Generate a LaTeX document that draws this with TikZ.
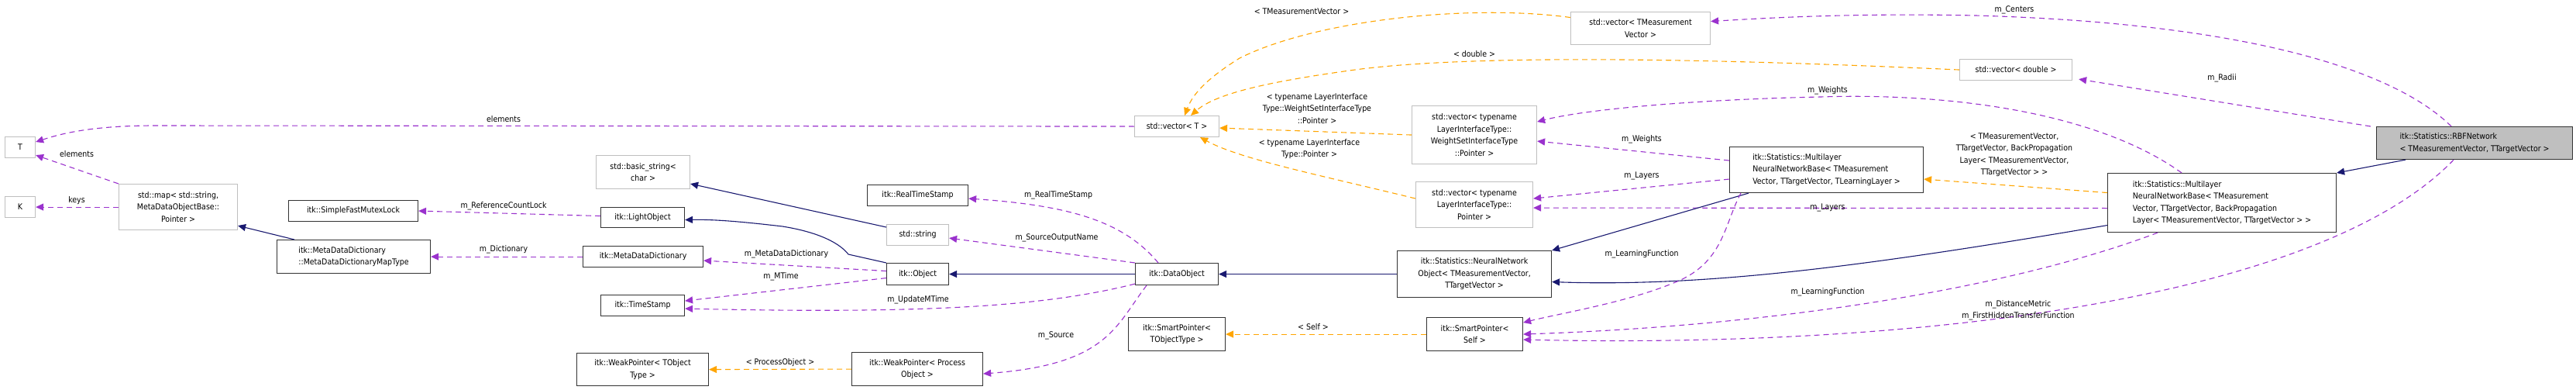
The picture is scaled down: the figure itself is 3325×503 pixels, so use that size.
\documentclass[tikz,border=0pt]{standalone}
\usepackage{fontspec}
\setmainfont{DejaVu Sans Condensed}
\usetikzlibrary{arrows.meta}
\definecolor{pu}{HTML}{9A32CD}
\definecolor{orr}{HTML}{FFA500}
\definecolor{nv}{HTML}{191970}
\definecolor{gb}{HTML}{BFBFBF}
\begin{document}
\begin{tikzpicture}[x=1pt,y=-1pt,
  font=\fontsize{10.5}{15.5}\selectfont,
  bx/.style={draw=black!80,line width=1.1pt,anchor=north west,inner sep=0pt,align=center},
  gx/.style={draw=gb,line width=1.1pt,anchor=north west,inner sep=0pt,align=center},
  tip/.style={-{Triangle[length=10pt,width=9pt]}},
  P/.style={tip,draw=pu,line width=1.1pt,dash pattern=on 7pt off 5pt,{-{Triangle[length=10pt,width=9pt,fill=pu]}}},
  O/.style={tip,draw=orr,line width=1.1pt,dash pattern=on 7pt off 5pt,{-{Triangle[length=10pt,width=9pt,fill=orr]}}},
  N/.style={tip,draw=nv,line width=1.1pt,{-{Triangle[length=10pt,width=9pt,fill=nv]}}},
  lb/.style={inner sep=0pt,align=center}]
\useasboundingbox (0,0) rectangle (3325,503);
% nodes
\node[gx,minimum width=39,minimum height=27] (T) at (6,176) {T};
\node[gx,minimum width=39,minimum height=27] (K) at (6,253) {K};
\node[gx,minimum width=153,minimum height=59] (map) at (153,237) {std::map< std::string,\\ MetaDataObjectBase::\\ Pointer >};
\node[bx,minimum width=167,minimum height=27] (sfml) at (372,258) {itk::SimpleFastMutexLock};
\node[bx,minimum width=198,minimum height=43,align=left] (mddm) at (357,309) {itk::MetaDataDictionary\\::MetaDataDictionaryMapType};
\node[gx,minimum width=121,minimum height=43] (basic) at (769,200) {std::basic\_string<\\ char >};
\node[bx,minimum width=108,minimum height=26] (light) at (775,267) {itk::LightObject};
\node[bx,minimum width=155,minimum height=27] (mdd) at (752,317) {itk::MetaDataDictionary};
\node[bx,minimum width=108,minimum height=27] (ts) at (775,380) {itk::TimeStamp};
\node[bx,minimum width=170,minimum height=42] (wpt) at (744,455) {itk::WeakPointer< TObject\\ Type >};
\node[bx,minimum width=130,minimum height=27] (rts) at (1119,238) {itk::RealTimeStamp};
\node[gx,minimum width=80,minimum height=27] (str) at (1144,289) {std::string};
\node[bx,minimum width=80,minimum height=28] (obj) at (1144,339) {itk::Object};
\node[bx,minimum width=107,minimum height=28] (dobj) at (1465,339) {itk::DataObject};
\node[bx,minimum width=125,minimum height=43] (spt) at (1456,409) {itk::SmartPointer<\\ TObjectType >};
\node[bx,minimum width=169,minimum height=43] (wpp) at (1099,454) {itk::WeakPointer< Process\\ Object >};
\node[gx,minimum width=109,minimum height=27] (vecT) at (1464,149) {std::vector< T >};
\node[gx,minimum width=180,minimum height=42] (vecM) at (2027,15) {std::vector< TMeasurement\\ Vector >};
\node[gx,minimum width=145,minimum height=27] (vecD) at (2529,76) {std::vector< double >};
\node[gx,minimum width=161,minimum height=75] (vecW) at (1822,136) {std::vector< typename\\ LayerInterfaceType::\\ WeightSetInterfaceType\\ ::Pointer >};
\node[gx,minimum width=151,minimum height=59] (vecL) at (1827,234) {std::vector< typename\\ LayerInterfaceType::\\ Pointer >};
\node[bx,minimum width=250,minimum height=59,align=left] (mlb) at (2232,189) {itk::Statistics::Multilayer\\NeuralNetworkBase< TMeasurement\\Vector, TTargetVector, TLearningLayer >};
\node[bx,minimum width=199,minimum height=60] (nno) at (1803,323) {itk::Statistics::NeuralNetwork\\Object< TMeasurementVector,\\ TTargetVector >};
\node[bx,minimum width=124,minimum height=43] (sps) at (1841,409) {itk::SmartPointer<\\ Self >};
\node[bx,minimum width=295,minimum height=76,align=left] (mlbp) at (2720,223) {itk::Statistics::Multilayer\\NeuralNetworkBase< TMeasurement\\Vector, TTargetVector, BackPropagation\\Layer< TMeasurementVector, TTargetVector > >};
\node[bx,fill=gb,minimum width=253,minimum height=42,align=left] (rbf) at (3067,163) {itk::Statistics::RBFNetwork\\< TMeasurementVector, TTargetVector >};
% edges
\draw[P] (vecT.west) -- (200,162) .. controls (120,162) and (80,172) .. ([yshift=7pt]T.east);
\node[lb] (l1) at (650,154) {elements};
\draw[P] (map.north west) -- ([yshift=4pt]T.south east);
\node[lb] (l2) at (99,199) {elements};
\draw[P] (map.west) -- (K.east);
\node[lb] (l3) at (99,259) {keys};
\draw[N] ([xshift=23pt]mddm.north west) -- ([yshift=6pt]map.south east);
\draw[P] ([yshift=2pt]light.west) -- (sfml.east);
\node[lb] (l4) at (650,266) {m\_ReferenceCountLock};
\draw[P] (mdd.west) -- (mddm.east);
\node[lb] (l5) at (650,322) {m\_Dictionary};
\draw[N] ([yshift=-4pt]str.north west) -- ([yshift=-15pt]basic.east);
\draw[N] (obj.north west) -- (1095,328) .. controls (1085,315) and (1060,300) .. (1010,292) .. controls (950,285) and (920,283) .. ([yshift=-3pt]light.east);
\draw[P] ([yshift=4pt]obj.west) -- ([yshift=-5pt]mdd.east);
\node[lb] (l6) at (1015,328) {m\_MetaDataDictionary};
\draw[P] ([yshift=-5pt]obj.west) -- ([yshift=6pt]ts.east);
\node[lb] (l7) at (1008,357) {m\_MTime};
\draw[P] ([yshift=2pt]dobj.south west) .. controls (1350,395) and (1200,405) .. ([yshift=-4pt]ts.east);
\node[lb] (l8) at (1185,387) {m\_UpdateMTime};
\draw[N] (dobj.west) -- (obj.east);
\draw[P] ([xshift=30pt]dobj.north west) .. controls (1450,285) and (1380,265) .. ([yshift=-4pt]rts.east);
\node[lb] (l9) at (1366,252) {m\_RealTimeStamp};
\draw[P] (dobj.north west) -- ([yshift=-4pt]str.east);
\node[lb] (l10) at (1364,307) {m\_SourceOutputName};
\draw[P] ([xshift=15pt]dobj.south west) .. controls (1440,420) and (1430,470) .. ([yshift=-6pt]wpp.east);
\node[lb] (l11) at (1363,433) {m\_Source};
\draw[O] (wpp.west) -- (wpt.east);
\node[lb] (l12) at (1007,468) {< ProcessObject >};
\draw[O] (sps.west) -- (spt.east);
\node[lb] (l13) at (1695,422) {< Self >};
\draw[N] (nno.west) -- (dobj.east);
\draw[O] ([yshift=14pt]vecM.west) .. controls (1900,5) and (1700,25) .. (1600,75) .. controls (1560,100) and (1540,120) .. ([xshift=10pt]vecT.north);
\node[lb] (l14) at (1680,15) {< TMeasurementVector >};
\draw[O] (vecD.west) .. controls (2200,75) and (1900,70) .. (1749,90) .. controls (1640,105) and (1570,120) .. ([xshift=18pt]vecT.north);
\node[lb] (l15) at (1903,70) {< double >};
\draw[O] (vecW.west) -- ([yshift=-2pt]vecT.east);
\node[lb] (l16) at (1700,140) {< typename LayerInterface\\Type::WeightSetInterfaceType\\::Pointer >};
\draw[O] ([yshift=8pt]vecL.west) .. controls (1700,225) and (1600,205) .. ([xshift=30pt]vecT.south);
\node[lb] (l17) at (1690,192) {< typename LayerInterface\\Type::Pointer >};
\draw[P] ([xshift=-52pt]mlbp.north) .. controls (2700,140) and (2500,120) .. (2350,125) .. controls (2200,128) and (2050,140) .. ([yshift=17pt]vecW.east);
\node[lb] (l18) at (2359,117) {m\_Weights};
\draw[P] ([yshift=12pt]mlb.west) -- ([yshift=-8pt]vecW.east);
\node[lb] (l19) at (2119,180) {m\_Weights};
\draw[P] ([yshift=-12pt]mlb.west) -- ([yshift=8pt]vecL.east);
\node[lb] (l20) at (2119,227) {m\_Layers};
\draw[P] ([yshift=-7pt]mlbp.west) -- ([yshift=-4pt]vecL.east);
\node[lb] (l21) at (2359,268) {m\_Layers};
\draw[O] ([yshift=13pt]mlbp.west) -- ([yshift=-12pt]mlb.east);
\node[lb] (l22) at (2600,200) {< TMeasurementVector,\\TTargetVector, BackPropagation\\Layer< TMeasurementVector,\\TTargetVector > >};
\draw[N] ([xshift=25pt]mlb.south west) -- (nno.north east);
\draw[N] ([yshift=-29pt]mlbp.west) .. controls (2400,345) and (2200,370) .. ([yshift=-10pt]nno.east);
\draw[P] ([xshift=15pt]mlb.south west) .. controls (2225,290) and (2225,340) .. (2160,365) .. controls (2100,390) and (2010,405) .. ([yshift=15pt]sps.east);
\node[lb] (l23) at (2119,328) {m\_LearningFunction};
\draw[P] ([xshift=-83pt]mlbp.south) .. controls (2600,370) and (2300,420) .. (sps.east);
\node[lb] (l24) at (2359,377) {m\_LearningFunction};
\draw[P] ([xshift=-27pt]rbf.south) .. controls (3000,380) and (2500,450) .. ([yshift=-7pt]sps.east);
\node[lb] (l25) at (2605,400) {m\_DistanceMetric\\m\_FirstHiddenTransferFunction};
\draw[N] ([xshift=38pt]rbf.south west) -- (mlbp.north east);
\draw[P] ([xshift=-30pt]rbf.north) .. controls (3090,90) and (2900,30) .. (2550,20) .. controls (2400,17) and (2300,22) .. ([yshift=9pt]vecM.east);
\node[lb] (l26) at (2600,13) {m\_Centers};
\draw[P] ([xshift=-7pt]rbf.north west) -- ([xshift=8pt,yshift=2pt]vecD.south east);
\node[lb] (l27) at (2868,101) {m\_Radii};
\end{tikzpicture}
\end{document}
